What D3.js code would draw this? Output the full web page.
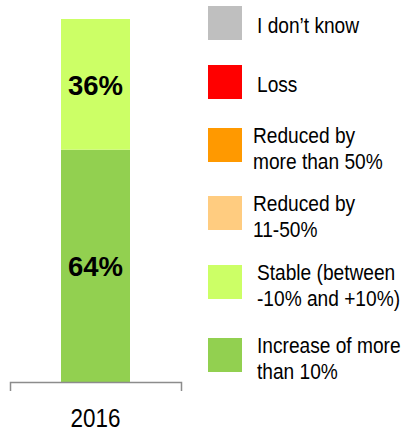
<!DOCTYPE html>
<html>
<head>
<meta charset="utf-8">
<script src="https://cdn.jsdelivr.net/npm/d3@7"></script>
<style>
  html, body { margin: 0; padding: 0; background: #fff; }
  svg { display: block; font-family: "Liberation Sans", Arial, sans-serif; }
</style>
</head>
<body>
<div id="chart"></div>
<script>
// chart data
const years = ["2016"];
const seriesNames = [
  "I don\u2019t know",
  "Loss",
  "Reduced by\nmore than 50%",
  "Reduced by\n11-50%",
  "Stable (between\n-10% and +10%)",
  "Increase of more\nthan 10%"
];
const seriesColors = ["#bfbfbf", "#ff0000", "#ff9900", "#ffcc80", "#ccff66", "#92d050"];
const seriesValues = [
  [0],   // I don't know
  [0],   // Loss
  [0],   // Reduced by more than 50%
  [0],   // Reduced by 11-50%
  [36],  // Stable
  [64]   // Increase of more than 10%
];

const width = 407, height = 431;
const axisY = 382, barTop = 19;

const svg = d3.select("#chart")
  .append("svg")
  .attr("width", width)
  .attr("height", height);

// build rows for the stack
const rows = years.map((yr, i) => {
  const r = { year: yr };
  seriesNames.forEach((s, j) => r[s] = seriesValues[j][i]);
  return r;
});

// bottom of the stack is the last legend entry
const stackKeys = seriesNames.slice().reverse();
const stacked = d3.stack().keys(stackKeys)(rows);

const x = d3.scaleBand()
  .domain(years)
  .range([10, 181])
  .padding(0.425);

const y = d3.scaleLinear()
  .domain([0, 100])
  .range([axisY, barTop]);

const color = d3.scaleOrdinal().domain(seriesNames).range(seriesColors);

// bars
const layers = svg.append("g")
  .selectAll("g")
  .data(stacked)
  .enter()
  .append("g")
  .attr("fill", d => color(d.key));

layers.selectAll("rect")
  .data(d => d)
  .enter()
  .append("rect")
  .attr("x", d => x(d.data.year))
  .attr("y", d => y(d[1]))
  .attr("width", x.bandwidth())
  .attr("height", d => y(d[0]) - y(d[1]));

// value labels
layers.selectAll("text")
  .data(d => d.filter(p => p[1] - p[0] > 0))
  .enter()
  .append("text")
  .attr("x", d => x(d.data.year) + x.bandwidth() / 2)
  .attr("y", d => (y(d[0]) + y(d[1])) / 2)
  .attr("dy", "0.38em")
  .attr("text-anchor", "middle")
  .attr("fill", "#000")
  .style("font-size", "27.5px")
  .style("font-weight", "bold")
  .text(d => (d[1] - d[0]) + "%");

// x axis
const axis = svg.append("g")
  .attr("transform", "translate(0," + axisY + ")")
  .call(d3.axisBottom(x).tickSizeInner(0).tickSizeOuter(9));

axis.select(".domain")
  .attr("stroke", "#8c8c8c")
  .attr("stroke-width", 1.5);

axis.selectAll(".tick text")
  .attr("y", 45)
  .attr("dy", null)
  .attr("fill", "#000")
  .attr("transform", "scale(0.88,1)")
  .style("font-size", "25.5px")
  .style("font-family", "'Liberation Sans', Arial, sans-serif");

// legend
const legendTop = [6, 65, 128, 196, 265, 338];
const legendTextX = [257, 257, 253, 253, 257, 257];

const legend = svg.append("g")
  .selectAll("g")
  .data(seriesNames)
  .enter()
  .append("g")
  .attr("transform", (d, i) => "translate(0," + legendTop[i] + ")");

legend.append("rect")
  .attr("x", 208)
  .attr("width", 34)
  .attr("height", 34)
  .attr("fill", d => color(d));

legend.each(function(d, i) {
  const lines = d.split("\n");
  const g = d3.select(this);
  const firstBase = lines.length === 1 ? 26.5 : 15;
  lines.forEach((ln, k) => {
    g.append("text")
      .attr("transform", "translate(" + legendTextX[i] + "," + (firstBase + k * 26) + ") scale(0.89,1)")
      .attr("fill", "#000")
      .style("font-size", "21.5px")
      .text(ln);
  });
});
</script>
</body>
</html>
